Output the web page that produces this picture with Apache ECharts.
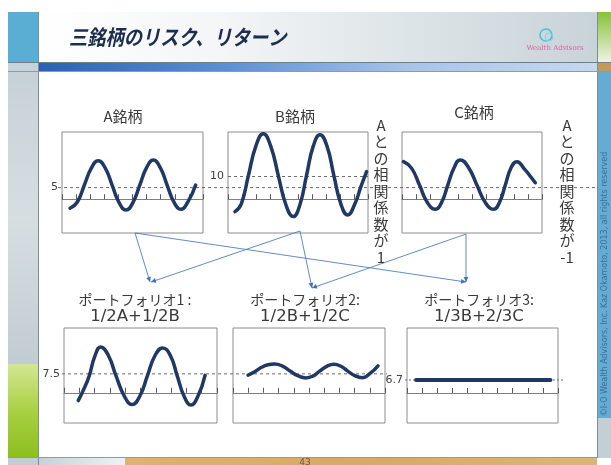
<!DOCTYPE html>
<html><head><meta charset="utf-8">
<script src="https://cdn.jsdelivr.net/npm/echarts@6/dist/echarts.min.js"></script>
<style>html,body{margin:0;padding:0;background:#fff}#c{width:611px;height:465px}</style>
</head><body><div id="c"></div>
<script>
// ---------- data ----------
const slideTitle = '三銘柄のリスク、リターン';
const stockTitles = ['A銘柄', 'B銘柄', 'C銘柄'];
const portfolioTitles = ['ポートフォリオ1 :', 'ポートフォリオ2:', 'ポートフォリオ3:'];
const portfolioFormulas = ['1/2A+1/2B', '1/2B+1/2C', '1/3B+2/3C'];
const noteCorrPlus = ['A', 'と', 'の', '相', '関', '係', '数', 'が', '1'];
const noteCorrMinus = ['A', 'と', 'の', '相', '関', '係', '数', 'が', '-1'];
const copyright = '©I-O Wealth Advisors, Inc. Kaz Okamoto, 2013, all rights reserved';
const pageNumber = '43';
const logoText = 'Wealth Advisors';

const refA = 5;      // dashed mean line, top row
const refB = 10;     // dashed mean line of B
const refP = 7.5;    // dashed mean line, portfolios 1-2
const refP3 = 6.7;   // mean of portfolio 3

// x: period position (0..10 across each box), y: return
const stockA = [[0.57,-3.9],[1.09,-1.2],[1.58,6.0],[2.08,13.4],[2.57,16.6],[3.06,13.5],[3.56,6.0],[4.05,-1.5],[4.54,-4.7],[5.03,-1.5],[5.51,6.0],[6.0,13.6],[6.48,16.9],[6.97,13.6],[7.46,6.0],[7.95,-1.4],[8.44,-4.4],[8.93,-1.2],[9.48,6.1]];
const stockB = [[0.5,-5.4],[0.95,-2.0],[1.46,10.3],[1.99,22.9],[2.52,28.2],[3.05,22.9],[3.59,10.3],[4.13,-2.3],[4.66,-7.5],[5.14,-2.3],[5.61,10.3],[6.09,22.9],[6.57,27.8],[7.07,22.9],[7.56,10.3],[8.06,-2.0],[8.55,-6.8],[9.05,-2.2],[9.5,5.5],[9.9,11.9]];
const stockC = [[0.11,16.2],[0.68,13.4],[1.25,6.1],[1.81,-1.4],[2.38,-4.4],[2.83,-1.4],[3.27,6.1],[3.72,13.6],[4.16,16.9],[4.76,13.6],[5.35,6.1],[5.95,-1.4],[6.54,-4.4],[6.96,-1.4],[7.38,6.1],[7.79,13.6],[8.21,16.2],[8.75,13.0],[9.15,10.0],[9.52,7.1]];
const port1 = [[0.93,-3.1],[1.3,1.5],[1.65,6.7],[2.0,14.2],[2.4,18.2],[2.9,14.8],[3.4,6.7],[3.95,-1.4],[4.45,-4.7],[4.95,-1.4],[5.45,6.7],[5.95,14.8],[6.45,17.8],[6.95,14.8],[7.4,6.7],[7.85,-1.4],[8.3,-4.9],[8.75,-1.4],[9.22,6.9]];
const port2 = [[0.99,7.0],[1.4,8.2],[1.85,10.0],[2.3,11.1],[2.74,11.4],[3.25,10.6],[3.75,8.6],[4.3,6.7],[4.8,5.9],[5.25,6.6],[5.7,8.6],[6.2,10.6],[6.64,11.3],[7.1,10.5],[7.55,8.6],[8.05,6.7],[8.51,6.0],[9.0,7.6],[9.54,10.7]];
const port3 = [[0.6,6.7],[1.5,6.7],[2.5,6.7],[3.5,6.7],[4.5,6.7],[5.5,6.7],[6.5,6.7],[7.5,6.7],[8.5,6.7],[9.5,6.7]];

// ---------- layout ----------
const FONT_JP = '"Noto Sans CJK JP", "Noto Sans", sans-serif';
const NAVY = '#1f3864';
const boxes = [
  {left:62,  top:132, width:141, height:101, min:-14.6, max:29,   label:[refA]},
  {left:228, top:132, width:140, height:101, min:-14.6, max:29,   label:[refB]},
  {left:402, top:132, width:140, height:101, min:-14.6, max:29,   label:[]},
  {left:64,  top:328, width:153, height:95,  min:-12,   max:25.7, label:[refP]},
  {left:233, top:328, width:152, height:95,  min:-12,   max:25.7, label:[]},
  {left:407, top:328, width:151, height:95,  min:-15.5, max:33.5, label:[refP3]}
];
const overlays = [
  {left:58,  top:132, width:539, height:101, min:-14.6, max:29},
  {left:62,  top:328, width:325, height:95,  min:-12,   max:25.7},
  {left:405, top:328, width:158, height:95,  min:-15.5, max:33.5}
];

const grid = [], xAxis = [], yAxis = [];
boxes.forEach((b, i) => {
  grid.push({left:b.left, top:b.top, width:b.width, height:b.height, show:true, borderColor:'#8c8c8c', borderWidth:1, backgroundColor:'#fff'});
  xAxis.push({type:'value', gridIndex:i, min:0, max:10, interval:1,
    axisLine:{onZero:true, lineStyle:{color:'#7f7f7f', width:1}},
    axisTick:{inside:true, length:5, lineStyle:{color:'#595959'}},
    axisLabel:{show:false}, splitLine:{show:false}});
  yAxis.push({type:'value', gridIndex:i, min:b.min, max:b.max,
    axisLine:{show:false}, axisTick:{show:false}, splitLine:{show:false},
    axisLabel:{show:b.label.length>0, customValues:b.label, margin:4, color:'#404040', fontSize:11, fontFamily:'DejaVu Sans'}});
});
overlays.forEach((o, j) => {
  const i = boxes.length + j;
  grid.push({left:o.left, top:o.top, width:o.width, height:o.height, show:false});
  xAxis.push({type:'value', gridIndex:i, min:0, max:1, show:false});
  yAxis.push({type:'value', gridIndex:i, min:o.min, max:o.max, show:false});
});

const curve = (idx, data, w) => ({type:'line', xAxisIndex:idx, yAxisIndex:idx, data, smooth:0.5, symbol:'none', z:5,
  lineStyle:{color:NAVY, width:w, cap:'round'}});
const refLine = (idx, v, dash) => ({type:'line', xAxisIndex:idx, yAxisIndex:idx, data:[[0,v],[1,v]], symbol:'none', z:3,
  lineStyle:{color:'#6b6b6b', width:1, type:dash}});

const series = [
  refLine(6, refA, [3,3]),
  refLine(7, refP, [3,3]),
  refLine(8, refP3, [2,2]),
  {type:'line', xAxisIndex:1, yAxisIndex:1, data:[], symbol:'none',
    markLine:{silent:true, symbol:'none', label:{show:false}, lineStyle:{color:'#6b6b6b', width:1, type:[3,3]}, data:[{yAxis:refB}]}},
  curve(0, stockA, 3.5), curve(1, stockB, 3.5), curve(2, stockC, 3.5),
  curve(3, port1, 3.5), curve(4, port2, 3.5), curve(5, port3, 4)
];

// ---------- slide decoration ----------
const lin = (x2, y2, stops) => ({type:'linear', x:0, y:0, x2, y2, colorStops:stops.map((c, k) => ({offset:k/(stops.length-1), color:c}))});
const rect = (x, y, w, h, fill) => ({type:'rect', silent:true, z:0, shape:{x, y, width:w, height:h}, style:{fill}});
const line = (x1, y1, x2, y2, stroke, lw) => ({type:'line', silent:true, z:1, shape:{x1, y1, x2, y2}, style:{stroke, lineWidth:lw||1}});
const text = (x, y, t, font, fill, align, valign, extra) => Object.assign({type:'text', silent:true, z:10, x, y,
  style:{text:t, font, fill, textAlign:align||'center', textVerticalAlign:valign||'middle'}}, extra||{});

const g = [];
g.push(rect(39, 12, 558, 50, lin(1, 0, ['#ffffff', '#f3f5f6', '#dde4e7', '#c8d3d8'])));
g.push(rect(8, 12, 30, 50, '#5aaed3'));
g.push(rect(598, 12, 13, 50, lin(0, 1, ['#86c23a', '#b9db8a', '#eef3e6'])));
g.push(rect(8, 62, 30, 10, '#c7d3da'));
g.push(rect(39, 62, 558, 10, lin(1, 0, ['#2a60b6', '#5b8fd6', '#a9c4ea', '#c6d8ef'])));
g.push(rect(598, 62, 13, 10, '#c49a5a'));
g.push(rect(8, 72, 30, 292, lin(0, 1, ['#c6d1d7', '#d6dee2', '#c1ccd2'])));
g.push(rect(8, 364, 30, 94, lin(0, 1, ['#d3e792', '#a9d043', '#8cbf1e'])));
g.push(rect(8, 458, 30, 7, '#c3ced4'));
g.push(rect(598, 72, 13, 346, '#64acd4'));
g.push(rect(598, 418, 13, 40, '#c4cfd5'));
g.push(rect(39, 458, 86, 7, lin(1, 0, ['#c6d2d8', '#eef2f4'])));
g.push(rect(125, 458, 472, 7, lin(1, 0, ['#d9b472', '#d3ab66', '#d9b678'])));
g.push(line(38.5, 12, 38.5, 465, '#7f8e94'));
g.push(line(597.5, 12, 597.5, 458, '#7f8e94'));
g.push(line(8, 62.5, 611, 62.5, '#6f7f86'));
g.push(line(8, 71.5, 611, 71.5, '#8c9ca3'));
g.push(line(8, 457.5, 597, 457.5, '#8c9ca3'));

// title & logo
g.push(text(69, 37, slideTitle, 'italic bold 21px ' + FONT_JP, '#1c2d4e', 'left', 'middle', {scaleX:0.87, originX:0, originY:0}));
g.push({type:'circle', silent:true, z:10, shape:{cx:546, cy:35, r:6}, style:{fill:'none', stroke:'#4cc0d8', lineWidth:1.6}});
g.push({type:'circle', silent:true, z:10, shape:{cx:549, cy:37, r:4}, style:{fill:'none', stroke:'#7fd3e3', lineWidth:1}});
g.push(text(555, 48, logoText, '7px "DejaVu Serif", serif', '#e0609a'));

// copyright (vertical, reading upwards)
g.push(text(604.5, 284, copyright, '8px "DejaVu Sans", sans-serif', '#3d6f95', 'center', 'middle', {rotation:Math.PI/2}));
g.push(text(305, 463, pageNumber, '9px "DejaVu Sans", sans-serif', '#6b5a3a'));

// chart titles
g.push(text(123, 116, stockTitles[0], '15px ' + FONT_JP, '#3a3a3a'));
g.push(text(295, 116, stockTitles[1], '15px ' + FONT_JP, '#3a3a3a'));
g.push(text(474, 112, stockTitles[2], '15px ' + FONT_JP, '#3a3a3a'));

// vertical notes
const vStyle = (arr) => ({text:arr.join('\n'), font:'15px ' + FONT_JP, fill:'#3a3a3a', textAlign:'center', textVerticalAlign:'top', lineHeight:16.5});
g.push({type:'text', silent:true, z:10, x:381, y:117, style:vStyle(noteCorrPlus)});
g.push({type:'text', silent:true, z:10, x:567, y:117, style:vStyle(noteCorrMinus)});

// portfolio titles
const pCenters = [135, 305, 479];
pCenters.forEach((cx, k) => {
  g.push(text(cx, 300, portfolioTitles[k], '14px ' + FONT_JP, '#3a3a3a'));
  g.push(text(cx, 317, portfolioFormulas[k], '16.5px "DejaVu Sans", sans-serif', '#3a3a3a'));
});

// arrows
const arrows = [
  [135, 233, 150, 282], [135, 233, 466, 282],
  [300, 231, 151, 282], [300, 231, 312, 288],
  [466, 234, 312, 288], [466, 234, 466, 282]
];
arrows.forEach(([x1, y1, x2, y2]) => {
  g.push(line(x1, y1, x2, y2, '#4f7fbf', 0.9));
  const a = Math.atan2(y2 - y1, x2 - x1), L = 5, W = 2.4;
  const bx = x2 - L * Math.cos(a), by = y2 - L * Math.sin(a);
  g.push({type:'polygon', silent:true, z:2, shape:{points:[[x2, y2],
    [bx + W * Math.sin(a), by - W * Math.cos(a)], [bx - W * Math.sin(a), by + W * Math.cos(a)]]},
    style:{fill:'#3f74bd'}});
});

const chart = echarts.init(document.getElementById('c'), null, {renderer:'canvas', width:611, height:465});
chart.setOption({
  backgroundColor:'#ffffff',
  animation:false,
  grid, xAxis, yAxis, series,
  graphic:{elements:g}
});
</script></body></html>
